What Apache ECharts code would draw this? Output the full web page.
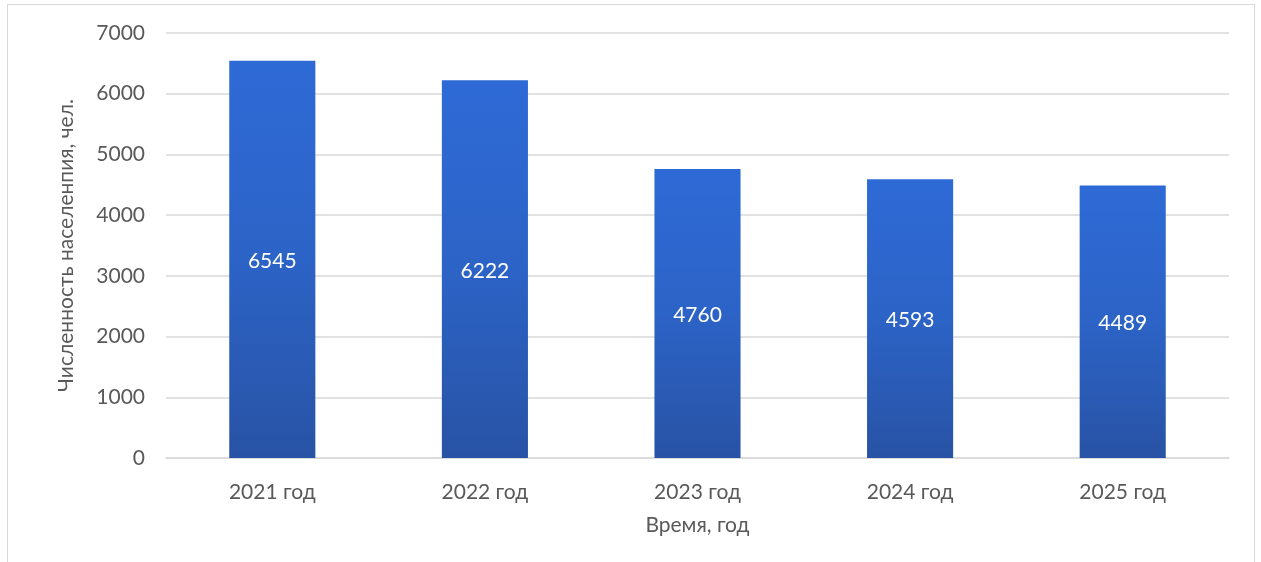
<!DOCTYPE html>
<html><head><meta charset="utf-8">
<script src="https://cdn.jsdelivr.net/npm/echarts@6/dist/echarts.min.js"></script>
<style>
html,body{margin:0;padding:0;background:#fff;}
#frame{position:absolute;left:7px;top:4px;width:1248px;height:570px;border:1.5px solid #d9d9d9;box-sizing:border-box;}
#c{position:absolute;left:0;top:0;width:1261px;height:562px;}
</style></head>
<body>
<div id="frame"></div>
<div id="c"></div>
<script>
const categories = ['2021 год','2022 год','2023 год','2024 год','2025 год'];
const population = [6545, 6222, 4760, 4593, 4489];
const yTicks = [0,1000,2000,3000,4000,5000,6000,7000];

const chart = echarts.init(document.getElementById('c'), null, {renderer:'canvas'});
const font = 'Lato';
chart.setOption({
  animation:false,
  grid:{left:166, right:32, top:33, bottom:104, containLabel:false},
  xAxis:{
    type:'category', data:categories,
    name:'Время, год', nameLocation:'middle', nameGap:57,
    nameTextStyle:{color:'#595959', fontSize:21, fontFamily:font},
    axisLine:{lineStyle:{color:'#d9d9d9', width:1.5}},
    axisTick:{show:false},
    axisLabel:{color:'#595959', fontSize:21, fontFamily:font, margin:24}
  },
  yAxis:{
    type:'value', min:yTicks[0], max:yTicks[yTicks.length-1], interval:1000,
    name:'Численность населенпия, чел.', nameLocation:'middle', nameGap:89,
    nameTextStyle:{color:'#595959', fontSize:21, fontFamily:font},
    axisLine:{show:false}, axisTick:{show:false},
    axisLabel:{color:'#595959', fontSize:21, fontFamily:font, margin:21, formatter:v=>String(v)},
    splitLine:{lineStyle:{color:'#d9d9d9', width:1.5}}
  },
  series:[{
    type:'bar', data:population, barWidth:'40.5%',
    itemStyle:{color:new echarts.graphic.LinearGradient(0,0,0,1,[
      {offset:0,color:'#2e6ad6'},{offset:0.5,color:'#2c63c6'},{offset:1,color:'#2853a5'}])},
    label:{show:true, position:'inside', color:'#ffffff', fontSize:21, fontFamily:font, offset:[0,2]}
  }]
});
</script>
</body></html>
